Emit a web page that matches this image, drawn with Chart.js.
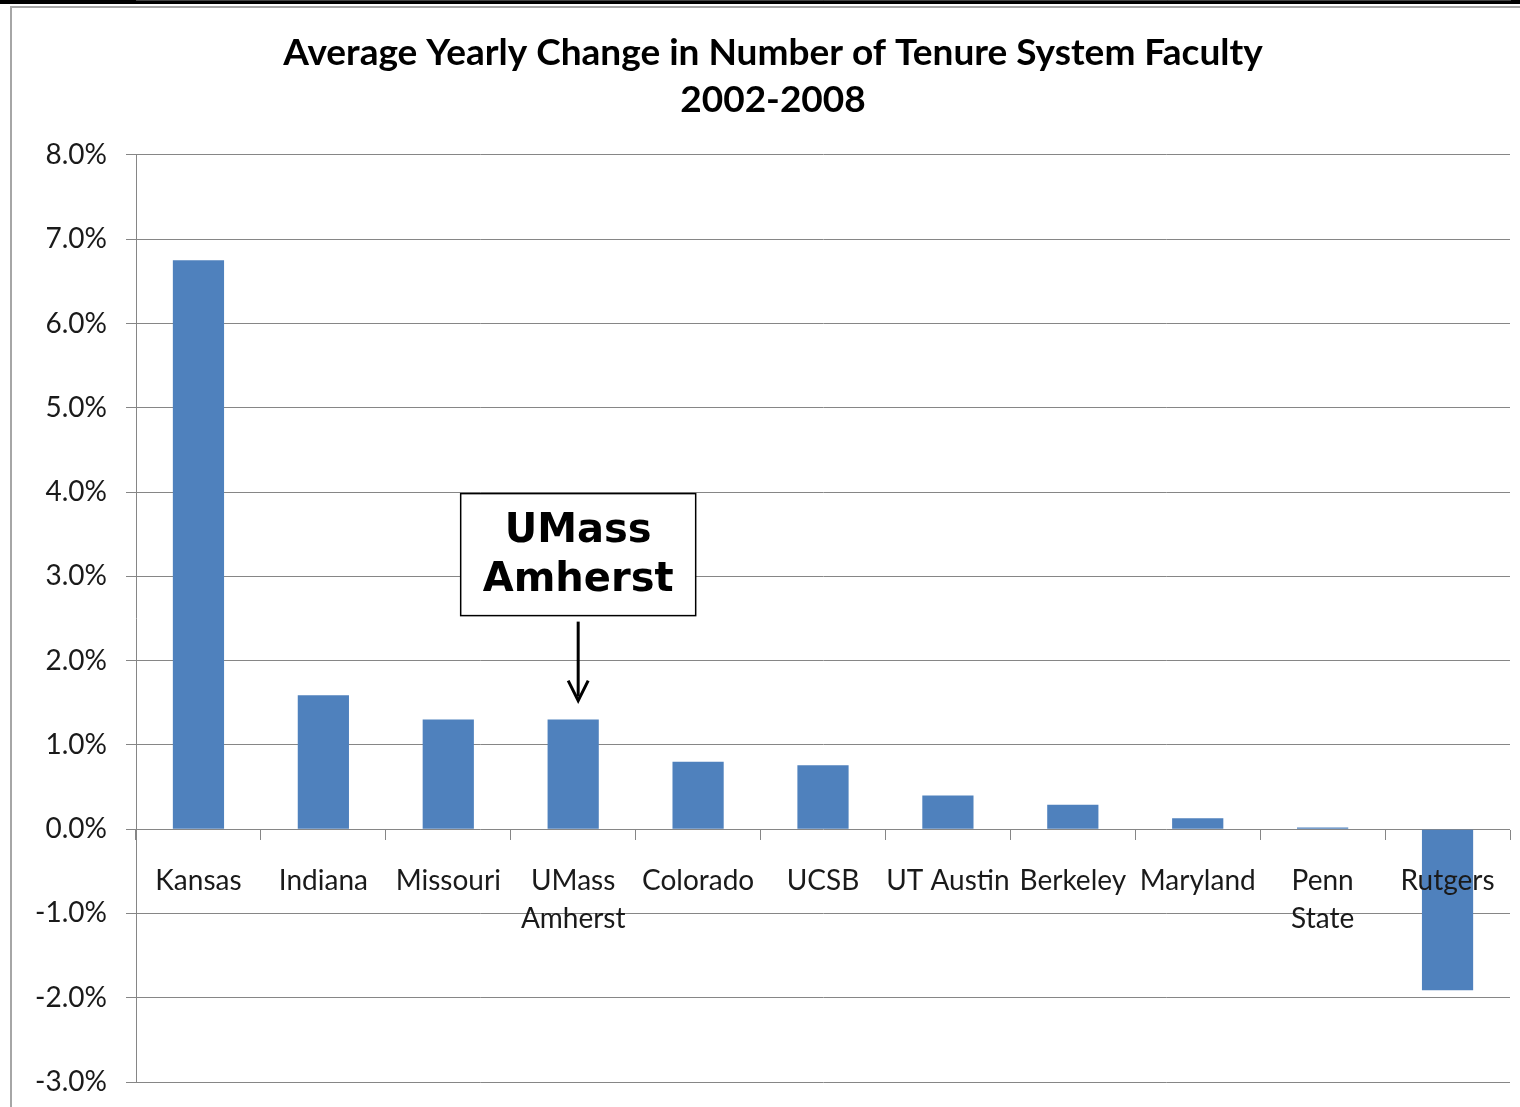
<!DOCTYPE html>
<html>
<head>
<meta charset="utf-8">
<script src="https://cdn.jsdelivr.net/npm/chart.js@4.4.1/dist/chart.umd.min.js"></script>
<style>
  html, body { margin: 0; padding: 0; background: #ffffff; }
  #wrap { position: relative; width: 1520px; height: 1107px; overflow: hidden; }
  #topband { position: absolute; left: 0; top: 0; width: 1520px; height: 4px; background: #000; }
  #frame { position: absolute; left: 10px; top: 6px; width: 1530px; height: 1120px; border: 2px solid #a6a6a6; box-sizing: border-box; }
  canvas { position: absolute; left: 0; top: 0; }
</style>
</head>
<body>
<div id="wrap">
  <div id="topband"></div>
  <div id="frame"></div>
  <canvas id="c" width="1520" height="1107"></canvas>
</div>
<script>
const categories = ['Kansas', 'Indiana', 'Missouri', ['UMass', 'Amherst'], 'Colorado', 'UCSB', 'UT Austin', 'Berkeley', 'Maryland', ['Penn', 'State'], 'Rutgers'];
const changeValues = [6.75, 1.59, 1.30, 1.30, 0.80, 0.76, 0.40, 0.29, 0.13, 0.02, -1.91];
const titleLines = ['Average Yearly Change in Number of Tenure System Faculty', '2002-2008'];
const calloutLines = ['UMass', 'Amherst'];
const calloutIndex = 3;

const gridGray = '#868686';

const callout = {
  id: 'callout',
  afterDatasetsDraw(chart) {
    const ctx = chart.ctx;
    const xs = chart.scales.x, ys = chart.scales.y;
    const cx = xs.getPixelForValue(calloutIndex) + 5;
    const barTop = ys.getPixelForValue(changeValues[calloutIndex]);
    const tipY = barTop - 19;
    const boxBottom = barTop - 104;
    const boxH = 122, boxW = 235;
    ctx.save();
    ctx.fillStyle = '#ffffff';
    ctx.strokeStyle = '#000000';
    ctx.lineWidth = 1.5;
    ctx.fillRect(cx - boxW / 2, boxBottom - boxH, boxW, boxH);
    ctx.strokeRect(cx - boxW / 2, boxBottom - boxH, boxW, boxH);
    ctx.fillStyle = '#000000';
    ctx.font = 'bold 40px "DejaVu Sans"';
    ctx.textAlign = 'center';
    ctx.textBaseline = 'middle';
    ctx.fillText(calloutLines[0], cx, boxBottom - boxH + 38);
    ctx.fillText(calloutLines[1], cx, boxBottom - boxH + 87);
    // arrow
    ctx.lineWidth = 3;
    ctx.lineJoin = 'miter';
    ctx.beginPath();
    ctx.moveTo(cx, boxBottom + 6);
    ctx.lineTo(cx, tipY - 4);
    ctx.stroke();
    ctx.beginPath();
    ctx.moveTo(cx - 10, tipY - 20);
    ctx.lineTo(cx, tipY);
    ctx.lineTo(cx + 10, tipY - 20);
    ctx.stroke();
    ctx.restore();
  }
};

new Chart(document.getElementById('c'), {
  type: 'bar',
  data: {
    labels: categories,
    datasets: [{
      data: changeValues,
      backgroundColor: '#4f81bd',
      borderWidth: 0,
      categoryPercentage: 1.0,
      barPercentage: 0.41
    }]
  },
  options: {
    responsive: false,
    animation: false,
    devicePixelRatio: 1,
    layout: { padding: { left: 36, right: 10, top: 0, bottom: 25 } },
    plugins: {
      legend: { display: false },
      tooltip: { enabled: false },
      title: {
        display: true,
        text: titleLines,
        color: '#000000',
        font: { family: 'Lato', size: 37, weight: 'bold', lineHeight: 1.27 },
        padding: { top: 30, bottom: 31 }
      }
    },
    scales: {
      x: {
        position: { y: 0 },
        grid: { display: true, z: 1, offset: true, drawOnChartArea: false, drawTicks: true, tickLength: 10, color: gridGray, lineWidth: 1 },
        border: { display: true, color: gridGray, width: 1 },
        ticks: {
          z: 2,
          color: '#1a1a1a',
          font: { family: 'Lato', size: 28, lineHeight: 1.36 },
          padding: 23,
          maxRotation: 0,
          autoSkip: false
        }
      },
      y: {
        min: -3,
        max: 8,
        afterFit(scale) {
          scale.width = 100;
          scale.paddingTop = 0;
          scale.paddingBottom = 0;
        },
        grid: { color: gridGray, lineWidth: 1, tickLength: 10 },
        border: { display: true, color: gridGray, width: 1 },
        ticks: {
          stepSize: 1,
          color: '#1a1a1a',
          padding: 19,
          font: { family: 'Lato', size: 28 },
          callback: (v) => v.toFixed(1) + '%'
        }
      }
    }
  },
  plugins: [callout]
});
</script>
</body>
</html>
